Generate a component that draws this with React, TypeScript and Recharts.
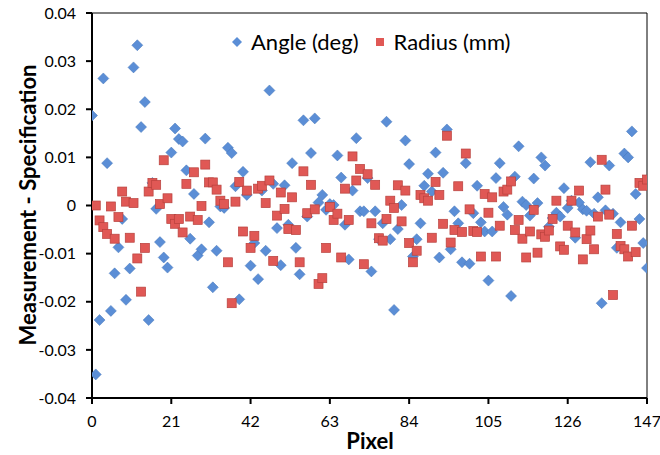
import { ScatterChart, Scatter, XAxis, YAxis, ReferenceLine, Label } from 'recharts';

// pixel index along the x axis
const pixels = Array.from({ length: 148 }, (_, i) => i);

// Angle (deg) deviation per pixel
const angleDev = [
  0.0187, -0.0351, -0.0238, 0.0264, 0.0088, -0.0219, -0.0141, -0.0087, -0.0028, -0.0196,
  -0.0131, 0.0287, 0.0333, 0.0163, 0.0215, -0.0238, 0.0047, -0.0007, -0.0076, -0.0108,
  -0.0129, 0.011, 0.016, 0.0138, 0.0133, 0.0073, -0.0069, 0.0024, -0.0104, -0.0091,
  0.0139, -0.0035, -0.017, -0.0094, -0.0002, -0.0005, 0.012, 0.0109, 0.004, -0.0195,
  0.007, 0.0022, -0.0125, -0.0078, -0.0153, 0.0031, -0.0094, 0.0239, 0.0045, -0.0047,
  -0.0124, 0.0042, -0.004, 0.0088, -0.0088, -0.0143, 0.0177, -0.0023, 0.0109, 0.0181,
  0.0006, 0.0022, -0.0009, 0.0003, 0.0001, 0.0104, 0.0058, -0.004, -0.0112, 0.0031,
  0.014, -0.0012, -0.0012, 0.0057, -0.0137, -0.0012, -0.007, -0.0037, 0.0174, -0.007,
  -0.0217, -0.0049, 0.0001, 0.0135, 0.0086, -0.0106, -0.007, -0.0037, 0.0041, 0.0066,
  0.0029, 0.011, -0.0108, 0.0068, 0.0158, -0.0091, -0.0012, -0.0037, -0.0118, 0.0088,
  -0.0121, -0.0016, 0.0041, -0.0035, -0.0054, -0.0156, -0.0054, 0.0057, 0.0088, -0.0003,
  -0.0019, -0.0188, 0.006, 0.0123, 0.0008, 0.0001, -0.0021, 0.0056, 0.0005, 0.01,
  0.0083, -0.0044, -0.0026, -0.0015, -0.0023, 0.0036, -0.0005, 0.001, -0.0067, 0.0006,
  -0.0008, -0.0011, 0.009, -0.0017, 0.0017, -0.0203, -0.001, 0.0083, -0.0017, -0.0088,
  -0.0035, 0.0108, 0.01, 0.0154, 0.0024, -0.0028, -0.0078, -0.013,
];

// Radius (mm) deviation per pixel (no reading at pixel 0)
const radiusDev = [
  null, 0.0, -0.0031, -0.0045, -0.0059, -0.0002, -0.0069, -0.0024, 0.0029, 0.0008,
  -0.0067, 0.0005, -0.011, -0.0179, -0.0088, 0.0029, 0.0047, 0.0043, 0.0003, 0.0094,
  0.0015, -0.0028, -0.0038, -0.0028, -0.0056, 0.0045, -0.0023, 0.0069, -0.003, -0.0001,
  0.0085, 0.0048, 0.0048, 0.0033, 0.001, 0.0003, -0.0118, -0.0203, 0.0008, 0.0049,
  -0.0054, 0.0031, -0.0088, -0.0063, 0.0035, 0.0041, 0.0005, 0.0052, -0.0115, -0.0021,
  0.0027, -0.0007, -0.0049, 0.0017, -0.0051, -0.0118, 0.0071, -0.0016, 0.0043, -0.0008,
  -0.0163, -0.0151, -0.0088, -0.0003, -0.003, -0.0017, -0.0108, 0.0035, -0.003, 0.0102,
  0.0052, 0.0076, -0.0122, 0.0065, -0.0037, 0.0043, -0.0068, -0.0073, -0.0028, 0.001,
  -0.0005, 0.0042, -0.0033, 0.0031, -0.0078, -0.0118, -0.0094, 0.0022, 0.0015, 0.001,
  -0.0067, 0.0049, 0.0022, -0.0038, 0.0145, -0.0077, -0.0051, 0.004, -0.0055, 0.0108,
  -0.0008, -0.0053, -0.0055, -0.0106, 0.0024, -0.0015, 0.0017, -0.0106, -0.0042, 0.0029,
  0.0033, 0.005, -0.0051, -0.003, -0.0069, -0.0108, -0.0054, -0.0009, -0.0098, -0.006,
  -0.0065, -0.0052, -0.0028, 0.001, -0.0085, -0.0092, -0.0042, 0.001, -0.0056, 0.0031,
  -0.0112, -0.007, -0.0052, -0.0091, -0.0023, 0.0095, 0.0033, -0.0019, -0.0186, -0.0059,
  -0.0084, -0.0091, -0.0106, -0.0042, -0.0097, 0.0047, 0.0041, 0.0054,
];

const xTicks = [0, 21, 42, 63, 84, 105, 126, 147];
const yTicks = [-0.04, -0.03, -0.02, -0.01, 0, 0.01, 0.02, 0.03, 0.04];

const angleData = pixels.map((p, i) => ({ pixel: p, value: angleDev[i] }));
const radiusData = pixels
  .map((p, i) => ({ pixel: p, value: radiusDev[i] }))
  .filter((d) => d.value !== null);

const BLUE = '#5B8ED6';
const RED = '#E05855';
const FONT = 'Lato, "Open Sans", sans-serif';

const Diamond = (props: any) => {
  const { cx, cy } = props;
  if (cx == null || cy == null) return null;
  return (
    <path
      d={`M${cx},${cy - 5.5} L${cx + 5.5},${cy} L${cx},${cy + 5.5} L${cx - 5.5},${cy} Z`}
      fill={BLUE}
      stroke="#4676B8"
      strokeWidth={0.5}
    />
  );
};

const Square = (props: any) => {
  const { cx, cy } = props;
  if (cx == null || cy == null) return null;
  return <rect x={cx - 4.5} y={cy - 4.5} width={9} height={9} fill={RED} stroke="#B8413D" strokeWidth={0.7} />;
};

// legend sits inside the plot, top centre
const LegendBox = () => (
  <div
    style={{
      position: 'absolute',
      top: 29,
      left: 232,
      display: 'flex',
      alignItems: 'center',
      fontFamily: FONT,
      fontSize: 22,
      lineHeight: '26px',
      color: '#000',
    }}
  >
    <svg width={10} height={10} style={{ marginRight: 9 }}>
      <path d="M5,0 L10,5 L5,10 L0,5 Z" fill={BLUE} />
    </svg>
    <span>Angle (deg)</span>
    <svg width={8} height={8} style={{ marginLeft: 17, marginRight: 10 }}>
      <rect x={0} y={0} width={8} height={8} fill={RED} />
    </svg>
    <span>Radius (mm)</span>
  </div>
);

const fmtY = (v: number) => (v === 0 ? '0' : v.toFixed(2));

export default function App() {
  return (
    <div style={{ position: 'absolute', left: 0, top: 0, width: 660, height: 455, background: '#fff' }}>
      <ScatterChart width={660} height={455} margin={{ top: 13, right: 13, bottom: 0, left: 0 }}>
        <XAxis
          type="number"
          dataKey="pixel"
          domain={[0, 147]}
          ticks={xTicks}
          interval={0}
          allowDataOverflow
          height={57}
          stroke="#000"
          strokeWidth={2}
          tickSize={6}
          tickMargin={12}
          tick={{ fontSize: 16, fill: '#000', fontFamily: FONT }}
        >
          <Label
            content={() => (
              <text x={370} y={449} textAnchor="middle" fontFamily={FONT} fontWeight="bold" fontSize={22} fill="#000">
                Pixel
              </text>
            )}
          />
        </XAxis>
        <YAxis
          type="number"
          dataKey="value"
          domain={[-0.04, 0.04]}
          ticks={yTicks}
          interval={0}
          allowDataOverflow
          width={92}
          stroke="#000"
          strokeWidth={2}
          tickSize={6}
          tickMargin={10}
          tickFormatter={fmtY}
          tick={{ fontSize: 16, fill: '#000', fontFamily: FONT }}
        >
          <Label
            content={() => (
              <text
                x={27}
                y={205}
                transform="rotate(-90 27 205)"
                textAnchor="middle"
                dominantBaseline="central"
                fontFamily={FONT}
                fontWeight="bold"
                fontSize={22}
                fill="#000"
              >
                Measurement - Specification
              </text>
            )}
          />
        </YAxis>
        <ReferenceLine y={0.04} stroke="#000" strokeWidth={1} />
        <ReferenceLine x={147} stroke="#000" strokeWidth={1} />
        <Scatter name="Angle (deg)" data={angleData} shape={Diamond} isAnimationActive={false} />
        <Scatter name="Radius (mm)" data={radiusData} shape={Square} isAnimationActive={false} />
      </ScatterChart>
      <LegendBox />
    </div>
  );
}
